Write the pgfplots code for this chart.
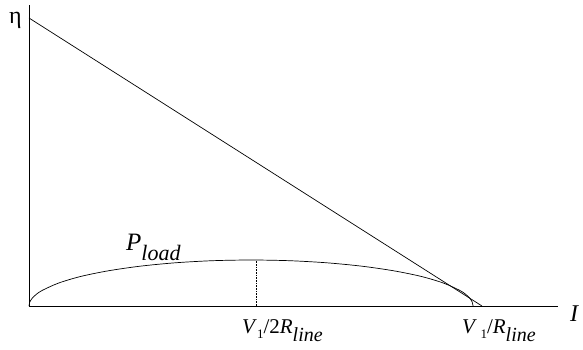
\documentclass[border=0pt]{standalone}
\usepackage{fontspec}
\setmainfont{Liberation Serif}
\usepackage{pgfplots}
\pgfplotsset{compat=1.18}
\begin{document}
\begin{tikzpicture}
\begin{axis}[
  at={(0,0)}, anchor=south west,
  scale only axis, width=529pt, height=301pt,
  xmin=0, xmax=529, ymin=0, ymax=301,
  axis lines=left, axis line style={-, line width=0.8pt, black},
  ticks=none, clip=false,
]
\addplot[black, line width=0.7pt] coordinates {(0,288) (453,0)};
\addplot[black, line width=0.7pt, smooth] coordinates {
(0,0) (0.8,4.0) (3.4,8.0) (7.6,11.9) (13.4,15.7) (29.7,23.0) (51.9,29.6)
(79.3,35.2) (111,39.8) (146.1,43.2) (183.5,45.3) (222,46) (260.5,45.3)
(297.9,43.2) (333,39.8) (364.7,35.2) (392.1,29.6) (414.3,23.0) (430.6,15.7)
(436.4,11.9) (440.6,8.0) (443.2,4.0) (444,0)};
\addplot[black, line width=0.6pt, densely dotted] coordinates {(227,0) (227,46)};
\node[anchor=base, inner sep=0pt, font=\fontsize{24}{24}\selectfont] at (axis cs:-13.5,283) {η};
\node[anchor=base west, inner sep=0pt, font=\fontsize{25}{25}\selectfont] at (axis cs:97,56) {\textit{P}\raisebox{-10pt}{\fontsize{22}{22}\selectfont\textit{load}}};
\node[anchor=base west, inner sep=0pt, font=\fontsize{21}{21}\selectfont] at (axis cs:213,-27) {\textit{V}\raisebox{-5pt}{\fontsize{13}{13}\selectfont 1}/2\textit{R}\raisebox{-8pt}{\fontsize{20}{20}\selectfont\textit{line}}};
\node[anchor=base west, inner sep=0pt, font=\fontsize{21}{21}\selectfont] at (axis cs:433,-27) {\textit{V}\,\raisebox{-5pt}{\fontsize{13}{13}\selectfont 1}/\textit{R}\raisebox{-8pt}{\fontsize{20}{20}\selectfont\textit{line}}};
\node[anchor=base west, inner sep=0pt, font=\fontsize{24}{24}\selectfont] at (axis cs:541,-15) {\textit{I}};
\end{axis}
\path[use as bounding box] (-29pt,-43pt) rectangle (554pt,306pt);
\end{tikzpicture}
\end{document}
